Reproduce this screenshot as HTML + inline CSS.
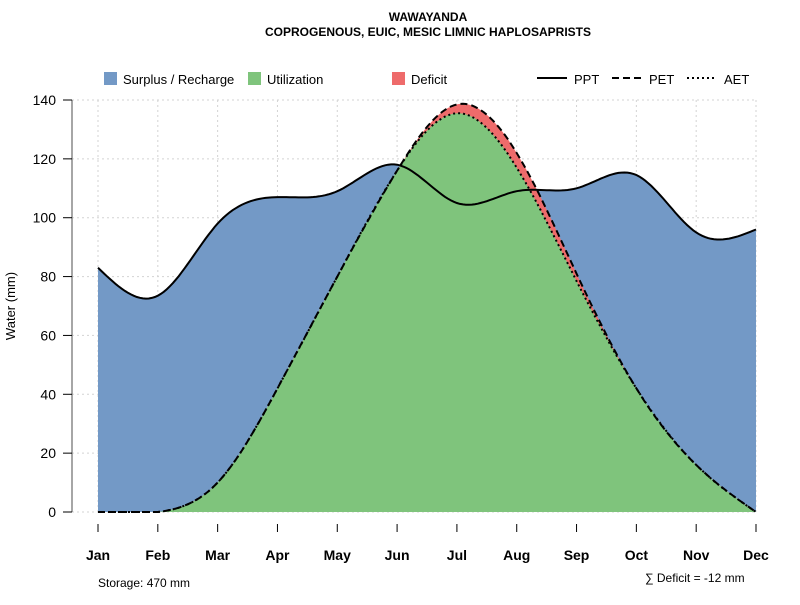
<!DOCTYPE html>
<html><head><meta charset="utf-8"><style>
body{margin:0;background:#fff;}
svg text{font-family:"Liberation Sans",sans-serif;}
</style></head><body>
<svg id="s" width="800" height="600" xmlns="http://www.w3.org/2000/svg">
<text x="428" y="21" text-anchor="middle" font-size="12" font-weight="bold">WAWAYANDA</text>
<text x="428" y="36" text-anchor="middle" font-size="12" font-weight="bold">COPROGENOUS, EUIC, MESIC LIMNIC HAPLOSAPRISTS</text>
<g id="grid" stroke="#d3d3d3" stroke-dasharray="2,3" stroke-width="1"></g>
<g id="fills"></g>
<g id="lines" fill="none" stroke="#000"></g>
<g id="axes"></g>
<g font-size="13">
<rect x="104" y="72" width="13" height="13" fill="#7399c6"/><text x="123" y="84">Surplus / Recharge</text>
<rect x="248" y="72" width="13" height="13" fill="#7fc47c"/><text x="267" y="84">Utilization</text>
<rect x="392" y="72" width="13" height="13" fill="#ee6b6b"/><text x="411" y="84">Deficit</text>
<line x1="537" y1="78" x2="567" y2="78" stroke="#000" stroke-width="2"/><text x="574" y="84">PPT</text>
<line x1="612" y1="78" x2="642" y2="78" stroke="#000" stroke-width="2" stroke-dasharray="7,4"/><text x="649" y="84">PET</text>
<line x1="687" y1="78" x2="717" y2="78" stroke="#000" stroke-width="2" stroke-dasharray="2,3"/><text x="724" y="84">AET</text>
</g>
<text x="15" y="306" font-size="13" text-anchor="middle" transform="rotate(-90 15 306)">Water (mm)</text>
<text x="98" y="587" font-size="12">Storage: 470 mm</text>
<text x="645" y="582" font-size="12">∑ Deficit = -12 mm</text>
</svg>
<script>
const X=i=>98+i*(658/11), Y=v=>512-v*412/140;
const ppt=[83,73.5,98,107,109,118,105,109,110,114.5,95,96];
const pet=[0,0,10,42,80,116,138.5,122,81,42,16,0];
const aet=[0,0,10,42,80,116,135.5,117,78.5,42,16,0];
function spline(y){const n=y.length;
 const r=[];for(let i=1;i<n-1;i++)r[i]=3*(y[i+1]-2*y[i]+y[i-1]);
 const l=[1],mu=[0],z=[0];
 for(let i=1;i<n-1;i++){l[i]=4-mu[i-1];mu[i]=1/l[i];z[i]=(r[i]-z[i-1])/l[i];}
 const cc=new Array(n).fill(0);
 for(let j=n-2;j>=1;j--)cc[j]=z[j]-mu[j]*cc[j+1];
 const pts=[];
 for(let j=0;j<n-1;j++){const bj=(y[j+1]-y[j])-(cc[j+1]+2*cc[j])/3,dj=(cc[j+1]-cc[j])/3;
  for(let k=0;k<20;k++){const t=k/20;pts.push([j+t,Math.max(0,y[j]+bj*t+cc[j]*t*t+dj*t*t*t)]);}}
 pts.push([n-1,y[n-1]]);return pts;}
const P=spline(ppt),E=spline(pet),A=spline(aet);
const s=p=>p.map(q=>X(q[0]).toFixed(1)+','+Y(q[1]).toFixed(1)).join(' ');
const ns='http://www.w3.org/2000/svg';
function el(g,t,at){const e=document.createElementNS(ns,t);for(const k in at)e.setAttribute(k,at[k]);document.getElementById(g).appendChild(e);return e;}
for(let v=0;v<=140;v+=20)el('grid','line',{x1:72,x2:756,y1:Y(v),y2:Y(v)});
for(let i=0;i<12;i++)el('grid','line',{x1:X(i),x2:X(i),y1:100,y2:512});
const base=X(11)+','+Y(0)+' '+X(0)+','+Y(0);
el('fills','polygon',{points:s(P)+' '+base,fill:'#7399c6'});
el('fills','polygon',{points:s(E)+' '+base,fill:'#ee6b6b'});
el('fills','polygon',{points:s(A)+' '+base,fill:'#7fc47c'});
el('lines','polyline',{points:s(P),'stroke-width':2});
el('lines','polyline',{points:s(E),'stroke-width':2,'stroke-dasharray':'7,4'});
el('lines','polyline',{points:s(A),'stroke-width':2,'stroke-dasharray':'2,3'});
el('axes','line',{x1:72,x2:72,y1:100,y2:512,stroke:'#888','stroke-width':1.5});
for(let v=0;v<=140;v+=20){el('axes','line',{x1:63,x2:72,y1:Y(v),y2:Y(v),stroke:'#000'});
 const t=el('axes','text',{x:56,y:Y(v)+5,'text-anchor':'end','font-size':14});t.textContent=v;}
const mo=['Jan','Feb','Mar','Apr','May','Jun','Jul','Aug','Sep','Oct','Nov','Dec'];
mo.forEach((m,i)=>{el('axes','line',{x1:X(i),x2:X(i),y1:524,y2:532,stroke:'#000'});
 const t=el('axes','text',{x:X(i),y:560,'text-anchor':'middle','font-size':14,'font-weight':'bold'});t.textContent=m;});
</script>
</body></html>
